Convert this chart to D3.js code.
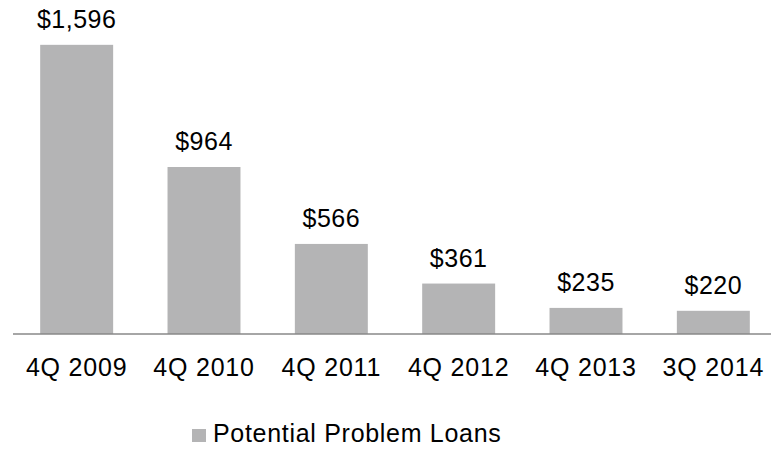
<!DOCTYPE html>
<html>
<head>
<meta charset="utf-8">
<script src="https://cdn.jsdelivr.net/npm/d3@7"></script>
<style>
  body { margin: 0; background: #fff; }
  svg { display: block; font-family: "Liberation Sans", Arial, sans-serif; }
</style>
</head>
<body>
<svg width="771" height="449"></svg>
<script>
// chart data
const quarters = ["4Q 2009", "4Q 2010", "4Q 2011", "4Q 2012", "4Q 2013", "3Q 2014"];
const loans = [1596, 964, 566, 361, 235, 220];
const seriesName = "Potential Problem Loans";

const svg = d3.select("svg");
const baseY = 334;

const x = d3.scaleBand()
  .domain(quarters)
  .range([13, 777])
  .paddingInner(0.427)
  .paddingOuter(0.2135);

// value axis does not start at zero in the original
const y = d3.scaleLinear().domain([100, 1800]).range([baseY, 5.4]);

svg.selectAll(".bar")
  .data(loans)
  .enter()
  .append("rect")
  .attr("class", "bar")
  .attr("x", (d, i) => x(quarters[i]))
  .attr("width", x.bandwidth())
  .attr("y", d => y(d))
  .attr("height", d => baseY - y(d))
  .attr("fill", "#b4b4b5");

svg.selectAll(".val")
  .data(loans)
  .enter()
  .append("text")
  .attr("class", "val")
  .attr("x", (d, i) => x(quarters[i]) + x.bandwidth() / 2)
  .attr("y", d => y(d) - 17)
  .attr("text-anchor", "middle")
  .attr("font-size", 25)
  .attr("letter-spacing", 0.5)
  .attr("fill", "#000")
  .text(d => "$" + d3.format(",")(d));

// baseline
svg.append("line")
  .attr("x1", 13).attr("x2", 771)
  .attr("y1", baseY).attr("y2", baseY)
  .attr("stroke", "#898989")
  .attr("stroke-width", 1.5);

const xAxis = svg.append("g")
  .attr("transform", `translate(0,${baseY})`)
  .call(d3.axisBottom(x).tickSize(0).tickPadding(0));
xAxis.select(".domain").remove();
xAxis.selectAll("text")
  .attr("dy", null)
  .attr("y", 42)
  .attr("font-size", 25)
  .attr("letter-spacing", 0.8)
  .attr("font-family", "Liberation Sans, Arial, sans-serif")
  .attr("fill", "#000");

// legend
const legend = svg.append("g").attr("transform", "translate(192,429)");
legend.append("rect")
  .attr("width", 14).attr("height", 13)
  .attr("fill", "#b4b4b5");
legend.append("text")
  .attr("x", 21).attr("y", 13)
  .attr("font-size", 25)
  .attr("letter-spacing", 0.7)
  .attr("fill", "#000")
  .text(seriesName);
</script>
</body>
</html>
